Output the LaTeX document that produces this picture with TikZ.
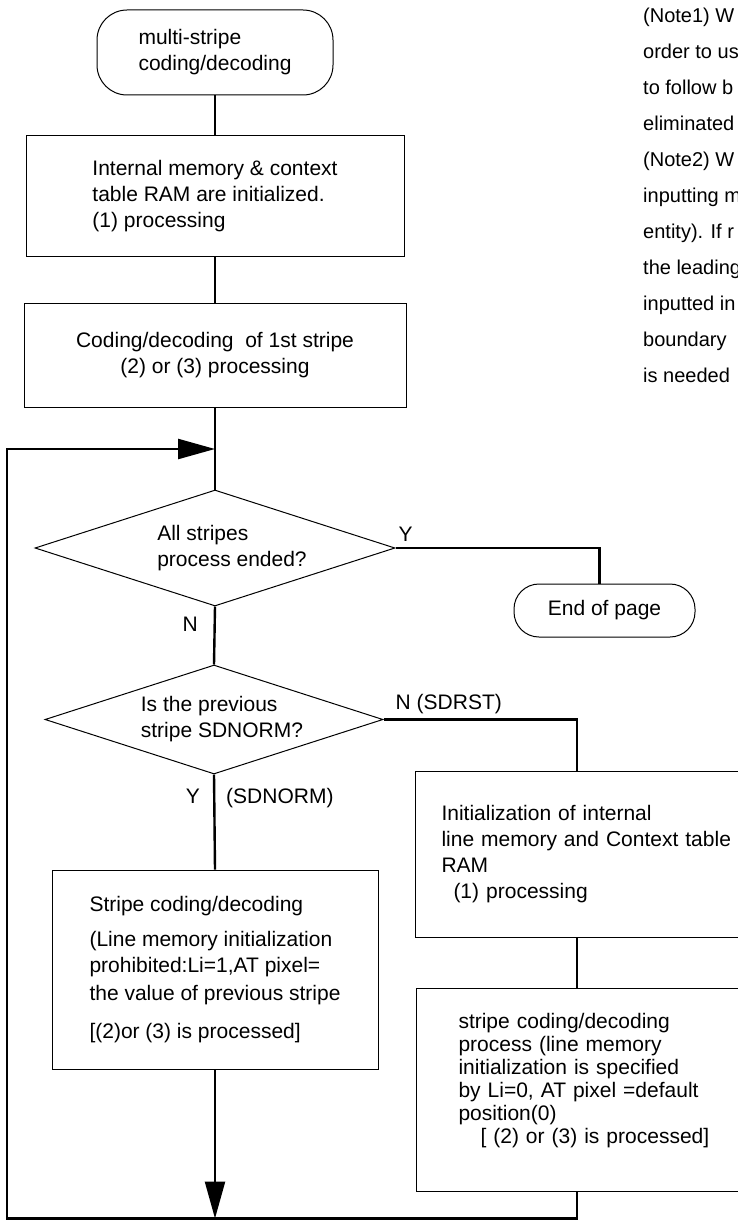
\documentclass[tikz,border=0pt]{standalone}
\usepackage{fontspec}
\setmainfont{Liberation Sans}
\usetikzlibrary{shapes.geometric,arrows.meta}
\begin{document}
\begin{tikzpicture}[x=1pt,y=-1pt,
  every node/.style={font=\fontsize{21}{26}\selectfont},
  conn/.style={line width=2.4pt},
  arr/.style={conn,-{Triangle[length=37pt,width=20pt]}},
  procbox/.style={draw,line width=1pt,inner sep=0pt,align=left},
  termbox/.style={procbox,rounded corners=#1},
  decision/.style={draw,line width=1pt,diamond,aspect=3.1,inner sep=0pt,align=left},
  lbl/.style={inner sep=0pt}]
\useasboundingbox(0,0)rectangle(738,1220);
\clip(0,0)rectangle(738,1220);
\fill[white](0,0)rectangle(738,1220);
\node[anchor=north west,align=left,inner sep=0pt,font=\fontsize{20}{36}\selectfont](note)at(643,8){(Note1) W\\order to us\\to follow b\\eliminated\\(Note2) W\\inputting m\\entity). If r\\the leading\\inputted in\\boundary\\is needed};
\node[termbox=30pt,minimum width=236pt,minimum height=85pt](start)at(215,52.5){multi-stripe\\coding/decoding};
\node[procbox,minimum width=378pt,minimum height=120pt](init)at(215,196){Internal memory \& context\\table RAM are initialized.\\(1) processing};
\node[procbox,align=center,minimum width=382pt,minimum height=104pt](first)at(215,355){Coding/decoding\ \ of 1st stripe\\(2) or (3) processing};
\node[decision,minimum width=360pt,minimum height=116pt](d1)at(215,548){\hspace*{34pt}All stripes\\\hspace*{34pt}process ended?};
\node[termbox=25pt,minimum width=181pt,minimum height=53pt](endp)at(604.5,610.5){End of page};
\node[decision,minimum width=338pt,minimum height=109pt](d2)at(214,719.5){\hspace*{16pt}Is the previous\\\hspace*{16pt}stripe SDNORM?};
\node[procbox,minimum width=326pt,minimum height=199pt](stripeL)at(215,969.5){Stripe coding/decoding\\[9pt](Line memory initialization\\prohibited:Li=1,AT pixel=\\[2pt]the value of previous stripe\\[12pt][(2)or (3) is processed]};
\node[procbox,anchor=north west,text width=293pt,inner xsep=26pt,minimum height=166pt](initR)at(415,771){Initialization of internal\\line memory and Context table\\RAM\\\hspace*{12pt}(1) processing};
\node[procbox,anchor=north west,text width=293pt,inner xsep=42pt,minimum height=203pt,font=\fontsize{21}{23}\selectfont](stripeR)at(416,988){stripe coding/decoding\\process (line memory\\initialization is specified\\by Li=0, AT pixel =default\\position(0)\\\hspace*{22pt}[ (2) or (3) is processed]\\\mbox{}};
\node[lbl,anchor=base west](lblY1)at([xshift=3pt,yshift=7pt]d1.east){Y};
\node[lbl,anchor=base east](lblN1)at([xshift=-17pt,yshift=-24.5pt]d1.south){N};
\node[lbl,anchor=base west](lblN2)at([xshift=12pt,yshift=10.5pt]d2.east){N (SDRST)};
\node[lbl,anchor=base east](lblY2)at([xshift=-14pt,yshift=-28.5pt]d2.south){Y};
\node[lbl,anchor=base west](lblSD)at([xshift=12pt,yshift=-28.5pt]d2.south){(SDNORM)};
\coordinate(loop)at(215,449);
\coordinate(botM)at(215,1218.5);
\coordinate(botL)at(7,1218.5);
\draw[conn](start)--(init);
\draw[conn](init)--(first);
\draw[conn](first)--(d1);
\draw[conn](d1.east)-|([xshift=-5pt]endp.north);
\draw[conn](d1.south)--(d2.north);
\draw[conn](d2.east)-|([xshift=162pt]initR.north west);
\draw[conn]([xshift=162pt]initR.south west)--([xshift=161pt]stripeR.north west);
\draw[conn](d2.south)--(stripeL.north);
\draw[arr](stripeL)--(botM);
\draw[arr]([xshift=161pt]stripeR.south west)|-(botL)|-(loop);
\end{tikzpicture}
\end{document}
